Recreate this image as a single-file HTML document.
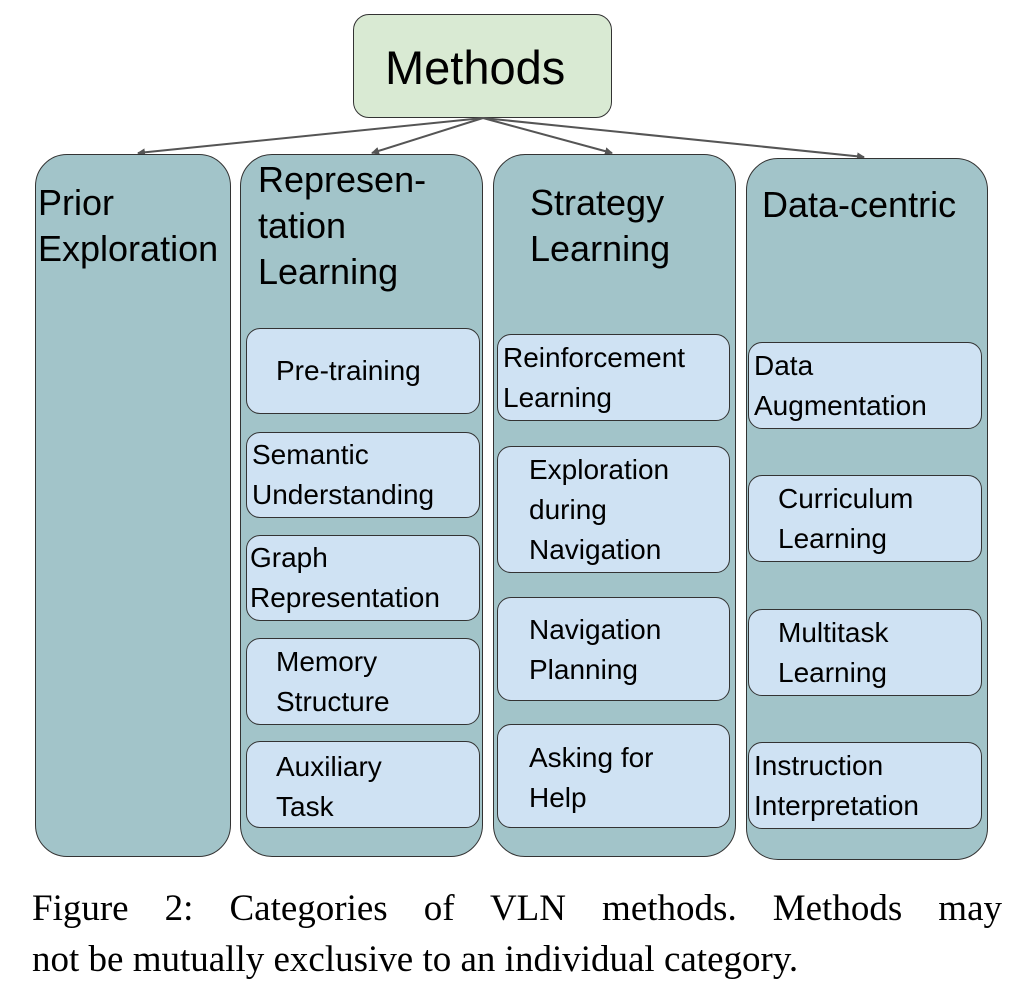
<!DOCTYPE html>
<html><head><style>
body{margin:0;width:1016px;height:998px;background:#fff;position:relative;overflow:hidden;font-family:"Liberation Sans",Arial,sans-serif;}
.b{position:absolute;box-sizing:border-box;border:1.5px solid #333;}
.col{background:#a2c4c9;border-radius:32px;}
.in{background:#cfe2f3;border-radius:14px;font-size:28px;line-height:40px;color:#000;}
.in span{position:absolute;white-space:nowrap;}
.h{position:absolute;font-size:36px;line-height:46px;white-space:nowrap;color:#000;}
.cap{position:absolute;left:32px;width:970px;font-family:"Liberation Serif",serif;font-size:37px;line-height:50px;text-align:justify;text-align-last:justify;white-space:nowrap;}
</style></head><body>
<div class="b" style="left:353px;top:14px;width:259px;height:104px;background:#d9ead3;border-radius:16px;"></div>
<div class="h" style="left:385px;top:40px;font-size:47px;line-height:56px;">Methods</div>
<svg style="position:absolute;left:0;top:0" width="1016" height="200">
<defs><marker id="a" markerWidth="8" markerHeight="8" refX="7" refY="4" orient="auto" markerUnits="userSpaceOnUse"><path d="M0,0 L8,4 L0,8 z" fill="#555"/></marker></defs>
<g stroke="#555" stroke-width="2" fill="none" marker-end="url(#a)">
<line x1="483" y1="118" x2="138" y2="153"/>
<line x1="483" y1="118" x2="372" y2="153"/>
<line x1="483" y1="118" x2="612" y2="153"/>
<line x1="483" y1="118" x2="864" y2="157"/>
</g></svg>
<div class="b col" style="left:35px;top:154px;width:196px;height:703px;"></div>
<div class="b col" style="left:240px;top:154px;width:243px;height:703px;"></div>
<div class="b col" style="left:493px;top:154px;width:243px;height:703px;"></div>
<div class="b col" style="left:746px;top:158px;width:242px;height:702px;"></div>
<div class="h" style="left:38px;top:180px;">Prior<br>Exploration</div>
<div class="h" style="left:258px;top:157px;">Represen-<br>tation<br>Learning</div>
<div class="h" style="left:530px;top:180px;">Strategy<br>Learning</div>
<div class="h" style="left:762px;top:182px;">Data-centric</div>

<div class="b in" style="left:246px;top:328px;width:234px;height:86px;"><span style="left:29px;top:22px;">Pre-training</span></div>
<div class="b in" style="left:246px;top:432px;width:234px;height:86px;"><span style="left:5px;top:2px;">Semantic<br>Understanding</span></div>
<div class="b in" style="left:246px;top:535px;width:234px;height:86px;"><span style="left:3px;top:2px;">Graph<br>Representation</span></div>
<div class="b in" style="left:246px;top:638px;width:234px;height:87px;"><span style="left:29px;top:3px;">Memory<br>Structure</span></div>
<div class="b in" style="left:246px;top:741px;width:234px;height:87px;"><span style="left:29px;top:5px;">Auxiliary<br>Task</span></div>

<div class="b in" style="left:497px;top:334px;width:233px;height:87px;"><span style="left:5px;top:3px;">Reinforcement<br>Learning</span></div>
<div class="b in" style="left:497px;top:446px;width:233px;height:127px;"><span style="left:31px;top:3px;">Exploration<br>during<br>Navigation</span></div>
<div class="b in" style="left:497px;top:597px;width:233px;height:104px;"><span style="left:31px;top:12px;">Navigation<br>Planning</span></div>
<div class="b in" style="left:497px;top:724px;width:233px;height:104px;"><span style="left:31px;top:13px;">Asking for<br>Help</span></div>

<div class="b in" style="left:748px;top:342px;width:234px;height:87px;"><span style="left:5px;top:3px;">Data<br>Augmentation</span></div>
<div class="b in" style="left:748px;top:475px;width:234px;height:87px;"><span style="left:29px;top:3px;">Curriculum<br>Learning</span></div>
<div class="b in" style="left:748px;top:609px;width:234px;height:87px;"><span style="left:29px;top:3px;">Multitask<br>Learning</span></div>
<div class="b in" style="left:748px;top:742px;width:234px;height:87px;"><span style="left:5px;top:3px;">Instruction<br>Interpretation</span></div>

<div class="cap" style="top:884px;">Figure 2: Categories of VLN methods. Methods may</div>
<div class="cap" style="top:935px;text-align-last:left;">not be mutually exclusive to an individual category.</div>
</body></html>
